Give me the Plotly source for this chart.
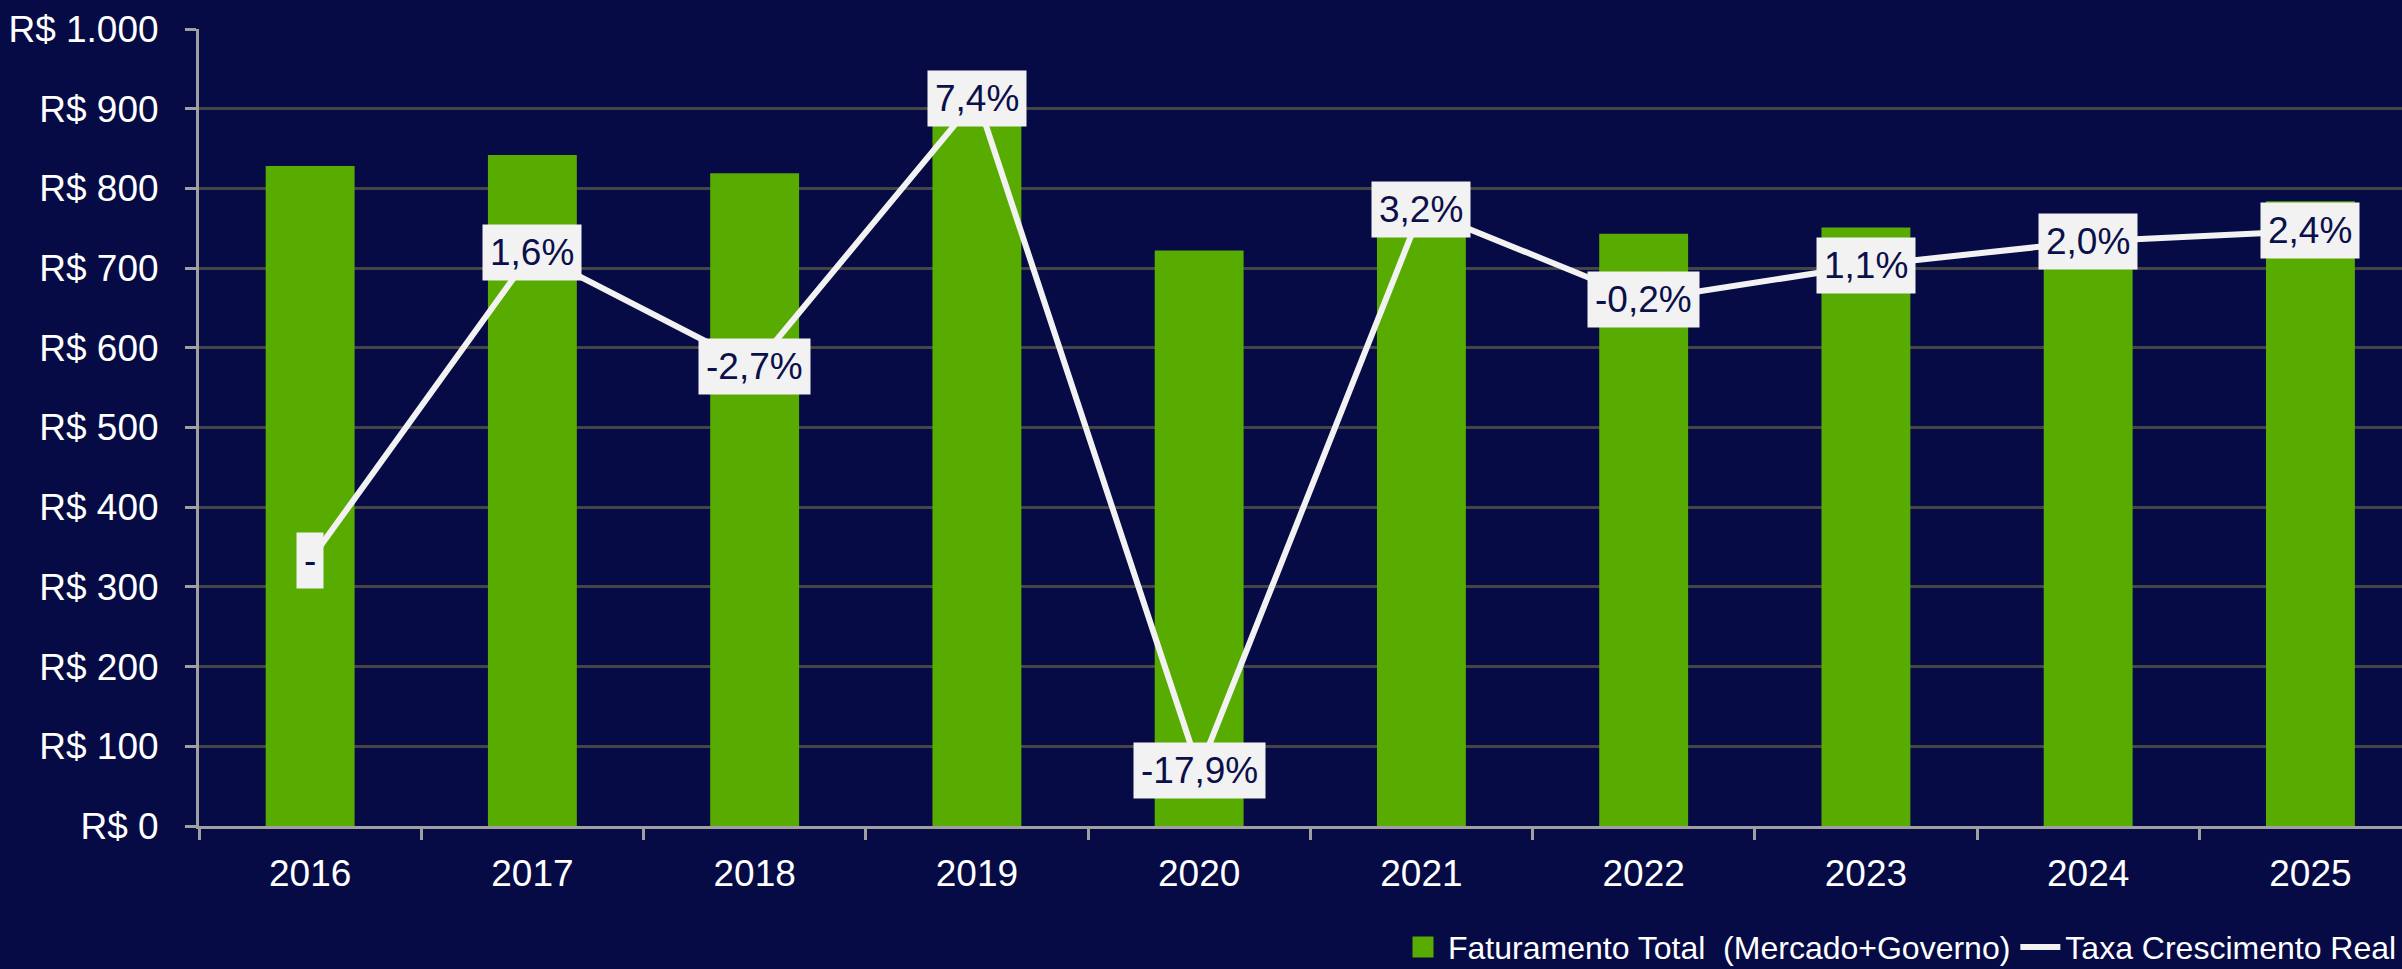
import plotly.graph_objects as go

years = ["2016", "2017", "2018", "2019", "2020", "2021", "2022", "2023", "2024", "2025"]
faturamento = [828, 842, 819, 890, 722, 760, 743, 751, 766, 784]
crescimento = [-10.0, 1.6, -2.7, 7.4, -17.9, 3.2, -0.2, 1.1, 2.0, 2.4]
crescimento_labels = ["-", "1,6%", "-2,7%", "7,4%", "-17,9%", "3,2%", "-0,2%", "1,1%", "2,0%", "2,4%"]
y_tickvals = [0, 100, 200, 300, 400, 500, 600, 700, 800, 900, 1000]
y_ticktext = ["R$ 0", "R$ 100", "R$ 200", "R$ 300", "R$ 400", "R$ 500",
              "R$ 600", "R$ 700", "R$ 800", "R$ 900", "R$ 1.000"]

BG = "#060B45"
GREEN = "#58AB00"
LINE = "#F2F2F2"
FONT = "Liberation Sans, Arial, sans-serif"

fig = go.Figure()

fig.add_trace(go.Bar(
    x=years, y=faturamento, name="Faturamento Total  (Mercado+Governo)",
    marker=dict(color=GREEN, line=dict(width=0)), width=0.4,
    showlegend=False, legendgroup="fat", hoverinfo="skip",
))
# legend swatch for bars (bigger square than the default bar icon)
fig.add_trace(go.Scatter(
    x=[None], y=[None], mode="markers", name="Faturamento Total  (Mercado+Governo)",
    marker=dict(symbol="square", size=16, color=GREEN, line=dict(color=GREEN, width=5)),
    legendgroup="fat", showlegend=True,
))
fig.add_trace(go.Scatter(
    x=years, y=crescimento, yaxis="y2", mode="lines", name="Taxa Crescimento Real",
    line=dict(color=LINE, width=6), hoverinfo="skip",
))

for i, (v, lab) in enumerate(zip(crescimento, crescimento_labels)):
    fig.add_annotation(
        x=i, y=v, xref="x", yref="y2", text=lab, showarrow=False,
        font=dict(family=FONT, size=37, color="#0B0F4A"),
        bgcolor=LINE, borderpad=7,
        xanchor="center", yanchor="middle",
    )

fig.update_layout(
    width=2402, height=969,
    paper_bgcolor=BG, plot_bgcolor=BG,
    margin=dict(l=199, r=0, t=29, b=143, pad=0, autoexpand=False),
    font=dict(family=FONT, color="#FFFFFF", size=37),
    showlegend=True,
    legend=dict(
        orientation="h", x=1, xanchor="right", y=-0.152, yanchor="middle",
        font=dict(family=FONT, size=32, color="#FFFFFF"),
        bgcolor="rgba(0,0,0,0)", itemwidth=40, traceorder="normal",
    ),
    xaxis=dict(
        type="category", range=[-0.5, 9.412],
        showgrid=False, showline=True, linecolor="#A0A0A0", linewidth=3,
        ticks="outside", tickson="boundaries", ticklen=11, tickwidth=3, tickcolor="#A0A0A0",
        tickfont=dict(family=FONT, size=37, color="#FFFFFF"),
        ticklabelstandoff=13, zeroline=False,
    ),
    yaxis=dict(
        range=[0, 1000], tickvals=y_tickvals, ticktext=y_ticktext,
        showgrid=True, gridcolor="#454545", gridwidth=3,
        showline=True, linecolor="#A0A0A0", linewidth=3,
        ticks="outside", ticklen=11, tickwidth=3, tickcolor="#A0A0A0",
        tickfont=dict(family=FONT, size=37, color="#FFFFFF"),
        ticklabelstandoff=19, zeroline=False,
    ),
    yaxis2=dict(
        range=[-20, 10], overlaying="y", side="right",
        showgrid=False, zeroline=False, showline=False,
        showticklabels=False, ticks="",
    ),
)

fig.write_html(
    "out.html",
    config={"displayModeBar": False},
    post_script="document.body.style.margin='0';document.body.style.overflow='hidden';",
)
